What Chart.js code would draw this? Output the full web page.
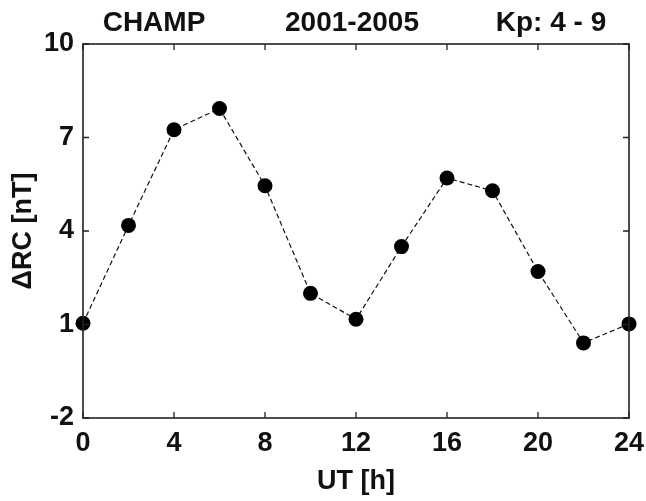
<!DOCTYPE html>
<html>
<head>
<meta charset="utf-8">
<script src="https://cdn.jsdelivr.net/npm/chart.js@4/dist/chart.umd.min.js"></script>
<style>
html,body{margin:0;padding:0;background:#fff;}
#wrap{width:646px;height:501px;}
</style>
</head>
<body>
<div id="wrap"><canvas id="c" width="646" height="501"></canvas></div>
<script>
const utHours = [0, 2, 4, 6, 8, 10, 12, 14, 16, 18, 20, 22, 24];
const deltaRC = [1.04, 4.18, 7.25, 7.93, 5.45, 2.0, 1.17, 3.5, 5.7, 5.29, 2.7, 0.41, 1.02];
const xTicks = [0, 4, 8, 12, 16, 20, 24];
const yTicks = [-2, 1, 4, 7, 10];
const headerTexts = ["CHAMP", "2001-2005", "Kp: 4 - 9"];
const headerCenters = [154, 352, 551];

const FONT = "'Liberation Sans', Arial, sans-serif";

const framePlugin = {
  id: 'frame',
  afterDatasetsDraw(chart) {
    const {ctx, chartArea: a, scales} = chart;
    ctx.save();
    ctx.strokeStyle = '#222';
    ctx.lineWidth = 1.6;
    ctx.strokeRect(a.left, a.top, a.right - a.left, a.bottom - a.top);
    ctx.lineWidth = 1.3;
    const tl = 6;
    ctx.beginPath();
    xTicks.forEach(v => {
      const x = scales.x.getPixelForValue(v);
      ctx.moveTo(x, a.bottom); ctx.lineTo(x, a.bottom - tl);
      ctx.moveTo(x, a.top); ctx.lineTo(x, a.top + tl);
    });
    yTicks.forEach(v => {
      const y = scales.y.getPixelForValue(v);
      ctx.moveTo(a.left, y); ctx.lineTo(a.left + tl, y);
      ctx.moveTo(a.right, y); ctx.lineTo(a.right - tl, y);
    });
    ctx.stroke();
    ctx.restore();
  },
  afterDraw(chart) {
    const {ctx} = chart;
    ctx.save();
    ctx.fillStyle = '#111';
    ctx.font = "bold 28px " + FONT;
    ctx.textAlign = 'center';
    ctx.textBaseline = 'middle';
    headerTexts.forEach((t, i) => ctx.fillText(t, headerCenters[i], 23));
    ctx.restore();
  }
};

new Chart(document.getElementById('c'), {
  type: 'line',
  data: {
    datasets: [{
      data: utHours.map((h, i) => ({x: h, y: deltaRC[i]})),
      borderColor: '#111',
      borderWidth: 1.2,
      borderDash: [5, 3],
      pointRadius: 7.5,
      pointBackgroundColor: '#000',
      pointBorderColor: '#000',
      pointBorderWidth: 0,
      tension: 0,
      clip: false
    }]
  },
  options: {
    responsive: false,
    animation: false,
    devicePixelRatio: 1,
    layout: {padding: {top: 44, right: 17, left: 0, bottom: 0}},
    plugins: {legend: {display: false}, tooltip: {enabled: false}, title: {display: false}},
    scales: {
      x: {
        type: 'linear', min: 0, max: 24,
        afterBuildTicks(s) { s.ticks = xTicks.map(v => ({value: v})); },
        afterFit(s) { s.height = 83; s.paddingRight = 0; s.paddingLeft = 0; },
        grid: {display: false, drawTicks: false},
        border: {display: false},
        ticks: {color: '#111', padding: 9, maxRotation: 0, font: {family: FONT, size: 27, weight: 'bold'}},
        title: {display: true, text: 'UT [h]', color: '#111', padding: {top: 0, bottom: 6}, font: {family: FONT, size: 27, weight: 'bold', lineHeight: 1}}
      },
      y: {
        type: 'linear', min: -2, max: 10,
        afterBuildTicks(s) { s.ticks = yTicks.map(v => ({value: v})); },
        afterFit(s) { s.width = 83; s.paddingTop = 0; s.paddingBottom = 0; },
        grid: {display: false, drawTicks: false},
        border: {display: false},
        ticks: {color: '#111', padding: 9, font: {family: FONT, size: 27, weight: 'bold'}},
        title: {display: true, text: 'ΔRC [nT]', color: '#111', padding: {top: 10, bottom: 0}, font: {family: FONT, size: 27, weight: 'bold', lineHeight: 1}}
      }
    }
  },
  plugins: [framePlugin]
});
</script>
</body>
</html>
